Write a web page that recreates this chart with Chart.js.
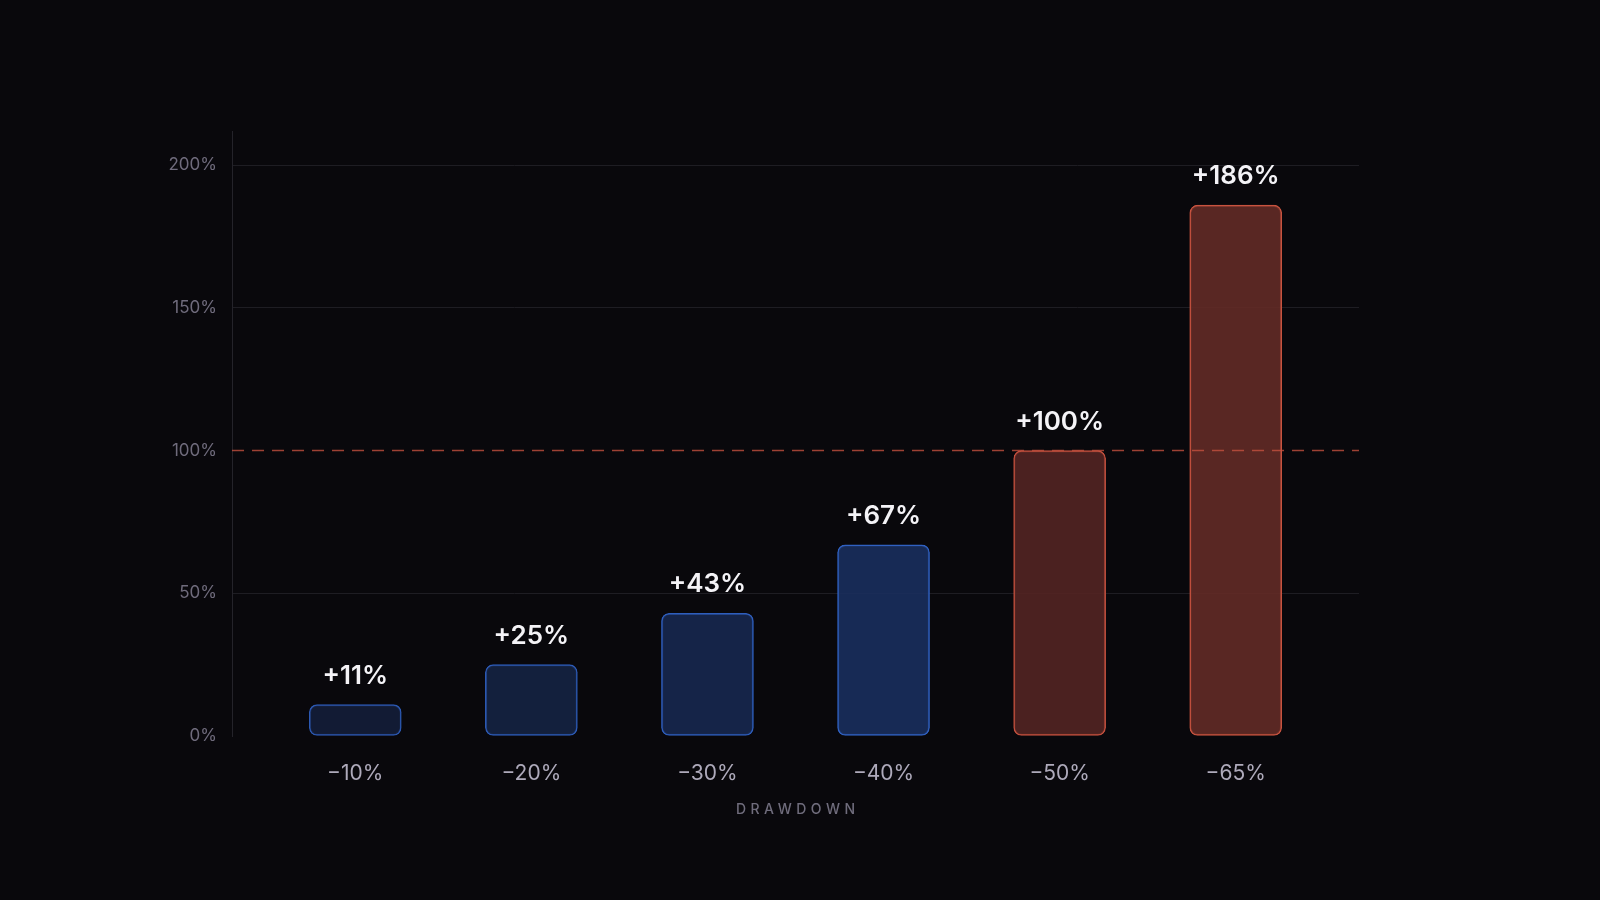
<!DOCTYPE html>
<html>
<head>
<meta charset="utf-8">
<style>
  html, body { margin: 0; padding: 0; background: #09080c; }
  #wrap { width: 1600px; height: 900px; }
</style>
<script src="https://cdn.jsdelivr.net/npm/chart.js@4.4.1/dist/chart.umd.min.js"></script>
</head>
<body>
<div id="wrap"><canvas id="lossChart"></canvas></div>
<script>
// data
const drawdowns = ['\u221210%', '\u221220%', '\u221230%', '\u221240%', '\u221250%', '\u221265%'];
const recovery = [11, 25, 43, 67, 100, 186];
const yTicks = [0, 50, 100, 150, 200];
const breakEven = 100;

const fills = ['rgba(20,30,56,0.9)', 'rgba(21,35,66,0.9)', 'rgba(23,40,79,0.9)', 'rgba(25,47,93,0.9)', 'rgba(83,37,34,0.9)', 'rgba(99,43,38,0.9)'];
const borders = ['#2c59b3', '#2d5bb8', '#2e5ebd', '#3061c2', '#c4503e', '#c8533f'];

// dashed break-even line + value labels + axis title
const extras = {
  id: 'extras',
  afterDatasetsDraw(chart) {
    const c = chart.ctx, a = chart.chartArea;
    const y = chart.scales.y.getPixelForValue(breakEven);
    c.save();
    c.strokeStyle = 'rgba(200, 82, 64, 0.78)';
    c.lineWidth = 1.5;
    c.setLineDash([12, 8]);
    c.beginPath();
    c.moveTo(a.left, y);
    c.lineTo(a.right, y);
    c.stroke();
    c.restore();

    const meta = chart.getDatasetMeta(0);
    c.save();
    c.fillStyle = '#f4f3f7';
    c.font = '600 26px Inter';
    c.textAlign = 'center';
    c.textBaseline = 'alphabetic';
    meta.data.forEach((bar, i) => {
      c.fillText('+' + recovery[i] + '%', bar.x, bar.y - 21);
    });
    c.restore();
  },
  afterDraw(chart) {
    const c = chart.ctx, a = chart.chartArea;
    c.save();
    c.fillStyle = '#6f6c7c';
    c.font = '500 14px Inter';
    c.textAlign = 'center';
    c.textBaseline = 'middle';
    c.letterSpacing = '4.5px';
    c.fillText('DRAWDOWN', (a.left + a.right) / 2 + 2.25, a.bottom + 74);
    c.restore();
  }
};

const ctx = document.getElementById('lossChart').getContext('2d');

const chart = new Chart(ctx, {
  type: 'bar',
  data: {
    datasets: [{
      data: recovery.map((v, i) => ({ x: i, y: v })),
      backgroundColor: fills,
      borderColor: borders,
      borderWidth: 1.5,
      borderRadius: 8,
      borderSkipped: false,
      barThickness: 92
    }]
  },
  options: {
    responsive: true,
    maintainAspectRatio: false,
    animation: false,
    layout: { padding: { top: 131, right: 241, bottom: 0, left: 0 } },
    plugins: {
      legend: { display: false },
      tooltip: { enabled: false }
    },
    scales: {
      x: {
        type: 'linear',
        offset: false,
        min: -0.7,
        max: 5.7,
        afterBuildTicks: (s) => { s.ticks = drawdowns.map((_, i) => ({ value: i })); },
        afterFit: (s) => { s.height = 164; },
        grid: { display: false, drawTicks: false },
        border: { display: false },
        ticks: {
          padding: 25,
          color: '#aeaabb',
          font: { family: 'Inter', size: 21 },
          callback: (v) => drawdowns[v]
        }
      },
      y: {
        min: 0,
        max: 212,
        afterBuildTicks: (s) => { s.ticks = yTicks.map(v => ({ value: v })); },
        afterFit: (s) => { s.width = 232; },
        grid: {
          drawTicks: false,
          lineWidth: 1,
          color: (c) => (c.tick && (c.tick.value === 0 || c.tick.value === breakEven)) ? 'rgba(0,0,0,0)' : '#1e1d23'
        },
        border: { display: true, color: '#24232a', width: 1 },
        ticks: {
          padding: 15,
          color: '#6f6b7c',
          font: { family: 'Inter', size: 17 },
          callback: (v) => v + '%'
        }
      }
    }
  },
  plugins: [extras]
});
</script>
</body>
</html>
